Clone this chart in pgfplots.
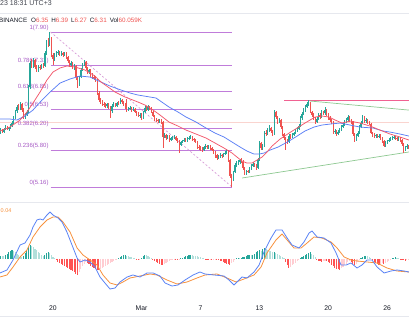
\documentclass[border=0pt]{standalone}
\usepackage{pgfplots}
\pgfplotsset{compat=1.18}
\usepackage{pgfplotstable}
\usepackage{fontspec}
\setmainfont{Liberation Sans}
\definecolor{upc}{HTML}{26A69A}
\definecolor{dnc}{HTML}{EF5350}
\definecolor{emar}{HTML}{F2576B}
\definecolor{emab}{HTML}{5B7FF5}
\definecolor{fibc}{HTML}{C07CDA}
\definecolor{fibt}{HTML}{A65AC4}
\definecolor{fibd}{HTML}{D79AD6}
\definecolor{hred}{HTML}{F06292}
\definecolor{tgreen}{HTML}{8DC891}
\definecolor{pline}{HTML}{FAD4CF}
\definecolor{bordc}{HTML}{E6E8EE}
\definecolor{txtc}{HTML}{131722}
\definecolor{macdb}{HTML}{5A83F5}
\definecolor{macdo}{HTML}{F7913D}
\definecolor{hdg}{HTML}{26A69A}
\definecolor{hlg}{HTML}{B2DFDB}
\definecolor{hdr}{HTML}{FF5252}
\definecolor{hlr}{HTML}{FFCDD2}

% 4h candles, n = candle index from 20 Feb 00:00
\pgfplotstableread{
n o h l c
-32 6.12 6.20 6.10 6.17
-31 6.17 6.19 6.11 6.14
-30 6.14 6.21 6.12 6.19
-29 6.19 6.25 6.17 6.22
-28 6.22 6.24 6.16 6.18
-27 6.18 6.23 6.15 6.21
-26 6.21 6.27 6.19 6.24
-25 6.24 6.33 6.22 6.30
-24 6.30 6.41 6.28 6.38
-23 6.38 6.53 6.36 6.50
-22 6.50 6.61 6.47 6.58
-21 6.58 6.63 6.52 6.55
-20 6.55 6.67 6.53 6.63
-19 6.63 6.65 6.49 6.52
-18 6.52 6.55 6.36 6.40
-17 6.40 6.47 6.37 6.44
-16 6.44 6.52 6.42 6.49
-15 6.49 6.96 6.47 6.92
-14 6.92 7.38 6.90 7.35
-13 7.35 7.42 7.26 7.30
-12 7.30 7.44 7.27 7.40
-11 7.40 7.42 7.24 7.29
-10 7.29 7.32 7.19 7.23
-9 7.23 7.31 7.20 7.28
-8 7.28 7.31 7.22 7.26
-7 7.26 7.34 7.24 7.31
-6 7.31 7.35 7.26 7.30
-5 7.30 7.56 7.28 7.52
-4 7.52 7.76 7.50 7.72
-3 7.72 7.80 7.64 7.68
-2 7.68 7.90 7.66 7.79
-1 7.79 7.82 7.45 7.49
0 7.49 7.53 7.32 7.42
1 7.42 7.52 7.39 7.49
2 7.49 7.56 7.46 7.52
3 7.52 7.58 7.49 7.55
4 7.55 7.57 7.47 7.50
5 7.50 7.56 7.48 7.53
6 7.53 7.55 7.46 7.49
7 7.49 7.55 7.47 7.52
8 7.52 7.54 7.43 7.46
9 7.46 7.48 7.35 7.38
10 7.38 7.40 7.29 7.32
11 7.32 7.38 7.28 7.35
12 7.35 7.37 7.25 7.29
13 7.29 7.33 7.22 7.30
14 7.30 7.32 7.06 7.10
15 7.10 7.12 6.91 6.96
16 6.96 7.13 6.94 7.10
17 7.10 7.26 7.08 7.23
18 7.23 7.36 7.21 7.33
19 7.33 7.41 7.30 7.37
20 7.37 7.39 7.22 7.26
21 7.26 7.28 7.15 7.19
22 7.19 7.25 7.16 7.22
23 7.22 7.24 7.11 7.14
24 7.14 7.17 7.07 7.11
25 7.11 7.14 7.05 7.09
26 7.09 7.12 7.01 7.05
27 7.05 7.07 6.79 6.82
28 6.82 6.85 6.66 6.70
29 6.70 6.73 6.62 6.66
30 6.66 6.69 6.60 6.63
31 6.63 6.66 6.57 6.61
32 6.61 6.64 6.55 6.59
33 6.59 6.65 6.56 6.62
34 6.62 6.64 6.54 6.58
35 6.58 6.60 6.38 6.50
36 6.50 6.62 6.47 6.60
37 6.60 6.66 6.57 6.63
38 6.63 6.65 6.57 6.60
39 6.60 6.67 6.58 6.65
40 6.65 6.68 6.61 6.64
41 6.64 6.73 6.62 6.70
42 6.70 6.72 6.63 6.66
43 6.66 6.68 6.60 6.63
44 6.63 6.65 6.54 6.57
45 6.57 6.71 6.49 6.52
46 6.52 6.58 6.50 6.55
47 6.55 6.59 6.52 6.56
48 6.56 6.58 6.49 6.52
49 6.52 6.57 6.50 6.54
50 6.54 6.56 6.46 6.49
51 6.49 6.51 6.41 6.45
52 6.45 6.48 6.39 6.42
53 6.42 6.47 6.38 6.44
54 6.44 6.46 6.34 6.38
55 6.38 6.51 6.36 6.48
56 6.48 6.59 6.46 6.56
57 6.56 6.59 6.50 6.53
58 6.53 6.61 6.51 6.58
59 6.58 6.60 6.52 6.55
60 6.55 6.57 6.46 6.49
61 6.49 6.51 6.39 6.42
62 6.42 6.44 6.33 6.36
63 6.36 6.38 6.31 6.35
64 6.35 6.37 6.30 6.33
65 6.33 6.36 6.30 6.34
66 6.34 6.36 6.28 6.31
67 6.31 6.33 5.85 6.05
68 6.05 6.11 6.02 6.08
69 6.08 6.10 6.00 6.03
70 6.03 6.08 6.01 6.06
71 6.06 6.08 5.96 5.99
72 5.99 6.04 5.97 6.02
73 6.02 6.06 6.00 6.04
74 6.04 6.08 6.01 6.05
75 6.05 6.07 5.97 6.00
76 6.00 6.02 5.94 5.97
77 5.97 5.99 5.76 5.90
78 5.90 5.98 5.88 5.95
79 5.95 6.00 5.93 5.97
80 5.97 6.02 5.95 5.99
81 5.99 6.02 5.95 5.98
82 5.98 6.04 5.96 6.01
83 6.01 6.06 5.99 6.03
84 6.03 6.08 6.01 6.05
85 6.05 6.07 5.98 6.01
86 6.01 6.03 5.96 5.99
87 5.99 6.01 5.93 5.96
88 5.96 5.98 5.84 5.87
89 5.87 5.90 5.82 5.85
90 5.85 5.88 5.80 5.83
91 5.83 5.86 5.78 5.81
92 5.81 5.88 5.79 5.86
93 5.86 5.92 5.84 5.89
94 5.89 5.91 5.83 5.86
95 5.86 5.90 5.84 5.88
96 5.88 5.90 5.82 5.85
97 5.85 5.87 5.79 5.82
98 5.82 5.84 5.74 5.78
99 5.78 5.80 5.68 5.72
100 5.72 5.74 5.63 5.67
101 5.67 5.73 5.65 5.70
102 5.70 5.76 5.68 5.73
103 5.73 5.75 5.68 5.71
104 5.71 5.77 5.69 5.74
105 5.74 5.80 5.72 5.77
106 5.77 5.83 5.75 5.80
107 5.80 5.82 5.61 5.64
108 5.64 5.66 5.32 5.36
109 5.36 5.39 5.16 5.30
110 5.30 5.45 5.27 5.42
111 5.42 5.58 5.40 5.55
112 5.55 5.62 5.52 5.58
113 5.58 5.63 5.55 5.60
114 5.60 5.66 5.57 5.63
115 5.63 5.67 5.58 5.61
116 5.61 5.63 5.47 5.50
117 5.50 5.52 5.37 5.40
118 5.40 5.46 5.37 5.44
119 5.44 5.47 5.40 5.43
120 5.43 5.51 5.41 5.49
121 5.49 5.56 5.47 5.53
122 5.53 5.60 5.51 5.57
123 5.57 5.59 5.51 5.54
124 5.54 5.56 5.47 5.50
125 5.50 5.67 5.48 5.64
126 5.64 5.97 5.62 5.94
127 5.94 5.96 5.81 5.85
128 5.85 5.92 5.82 5.89
129 5.89 6.15 5.87 6.12
130 6.12 6.16 6.06 6.10
131 6.10 6.20 6.08 6.17
132 6.17 6.25 6.14 6.20
133 6.20 6.22 6.11 6.15
134 6.15 6.17 6.07 6.10
135 6.10 6.52 6.08 6.49
136 6.49 6.51 6.36 6.40
137 6.40 6.42 6.28 6.31
138 6.31 6.38 6.29 6.34
139 6.34 6.36 6.19 6.22
140 6.22 6.24 6.07 6.10
141 6.10 6.12 6.00 6.03
142 6.03 6.05 5.81 5.99
143 5.99 6.01 5.92 5.96
144 5.96 6.09 5.94 6.06
145 6.06 6.09 6.01 6.04
146 6.04 6.11 6.02 6.08
147 6.08 6.14 6.06 6.11
148 6.11 6.18 6.09 6.15
149 6.15 6.22 6.13 6.19
150 6.19 6.27 6.17 6.24
151 6.24 6.41 6.22 6.38
152 6.38 6.48 6.35 6.45
153 6.45 6.55 6.43 6.52
154 6.52 6.61 6.49 6.58
155 6.58 6.66 6.56 6.63
156 6.63 6.70 6.60 6.65
157 6.65 6.67 6.46 6.49
158 6.49 6.51 6.40 6.44
159 6.44 6.46 6.35 6.38
160 6.38 6.40 6.28 6.31
161 6.31 6.39 6.29 6.36
162 6.36 6.46 6.34 6.43
163 6.43 6.46 6.37 6.40
164 6.40 6.52 6.38 6.49
165 6.49 6.51 6.43 6.46
166 6.46 6.58 6.44 6.52
167 6.52 6.54 6.42 6.45
168 6.45 6.47 6.35 6.38
169 6.38 6.41 6.31 6.35
170 6.35 6.37 6.28 6.31
171 6.31 6.33 6.10 6.13
172 6.13 6.18 6.10 6.15
173 6.15 6.17 6.07 6.10
174 6.10 6.16 6.08 6.14
175 6.14 6.20 6.12 6.17
176 6.17 6.25 6.15 6.22
177 6.22 6.29 6.20 6.26
178 6.26 6.34 6.24 6.31
179 6.31 6.38 6.29 6.35
180 6.35 6.44 6.33 6.40
181 6.40 6.42 6.31 6.34
182 6.34 6.36 6.28 6.31
183 6.31 6.33 6.07 6.10
184 6.10 6.12 5.96 5.99
185 5.99 6.09 5.97 6.06
186 6.06 6.15 6.04 6.12
187 6.12 6.25 6.10 6.22
188 6.22 6.33 6.20 6.30
189 6.30 6.44 6.28 6.40
190 6.40 6.42 6.30 6.33
191 6.33 6.38 6.30 6.35
192 6.35 6.37 6.28 6.31
193 6.31 6.33 6.25 6.28
194 6.28 6.30 6.09 6.12
195 6.12 6.14 6.05 6.08
196 6.08 6.11 6.03 6.06
197 6.06 6.10 6.03 6.08
198 6.08 6.10 6.02 6.05
199 6.05 6.09 6.02 6.07
200 6.07 6.09 6.00 6.03
201 6.03 6.05 5.94 5.97
202 5.97 5.99 5.86 5.89
203 5.89 5.97 5.87 5.94
204 5.94 6.00 5.92 5.97
205 5.97 6.03 5.95 6.00
206 6.00 6.04 5.97 6.01
207 6.01 6.07 5.99 6.04
208 6.04 6.08 6.01 6.05
209 6.05 6.07 5.99 6.02
210 6.02 6.05 5.98 6.01
211 6.01 6.06 5.98 6.03
212 6.03 6.05 5.96 5.99
213 5.99 6.01 5.89 5.92
214 5.92 5.94 5.77 5.81
215 5.81 5.89 5.79 5.86
216 5.86 5.92 5.84 5.89
217 5.89 5.91 5.84 5.87
}\candles

% MACD histogram: k = 0 dark green, 1 light green, 2 dark red, 3 light red
\pgfplotstableread{
n v k
-32 0.012 0
-31 0.012 1
-30 0.010 1
-29 0.014 0
-28 0.020 0
-27 0.026 0
-26 0.030 0
-25 0.036 0
-24 0.030 1
-23 0.026 1
-22 0.020 1
-21 0.014 1
-20 0.010 1
-19 0.006 1
-18 0.010 0
-17 0.024 0
-16 0.036 0
-15 0.048 0
-14 0.056 0
-13 0.052 1
-12 0.046 1
-11 0.040 1
-10 0.034 1
-9 0.028 1
-8 0.022 1
-7 0.016 1
-6 0.010 1
-5 0.014 0
-4 0.022 0
-3 0.028 0
-2 0.024 1
-1 0.016 1
0 0.008 1
1 0.002 1
2 -0.006 2
3 -0.012 2
4 -0.018 2
5 -0.022 2
6 -0.026 2
7 -0.030 2
8 -0.034 2
9 -0.038 2
10 -0.042 2
11 -0.046 2
12 -0.050 2
13 -0.054 2
14 -0.060 2
15 -0.064 2
16 -0.052 3
17 -0.040 3
18 -0.030 3
19 -0.020 3
20 -0.014 3
21 -0.016 2
22 -0.022 2
23 -0.028 2
24 -0.034 2
25 -0.038 2
26 -0.042 2
27 -0.044 2
28 -0.046 2
29 -0.042 3
30 -0.038 3
31 -0.034 3
32 -0.030 3
33 -0.026 3
34 -0.022 3
35 -0.018 3
36 -0.014 3
37 -0.010 3
38 -0.006 3
39 -0.002 3
40 0.004 0
41 0.008 0
42 0.012 0
43 0.014 0
44 0.016 0
45 0.012 1
46 0.010 1
47 0.008 1
48 0.006 1
49 0.004 1
50 0.002 1
51 -0.004 2
52 -0.006 2
53 -0.002 3
54 0.004 0
55 0.010 0
56 0.016 0
57 0.014 1
58 0.010 1
59 0.006 1
60 0.002 1
61 -0.004 2
62 -0.008 2
63 -0.012 2
64 -0.016 2
65 -0.020 2
66 -0.024 2
67 -0.026 2
68 -0.020 3
69 -0.016 3
70 -0.012 3
71 -0.008 3
72 -0.006 3
73 -0.004 3
74 -0.002 3
75 -0.004 2
76 -0.006 2
77 -0.004 3
78 0.002 0
79 0.004 0
80 0.008 0
81 0.010 0
82 0.012 0
83 0.014 0
84 0.016 0
85 0.014 1
86 0.012 1
87 0.012 1
88 0.010 1
89 0.008 1
90 0.006 1
91 0.004 1
92 0.002 1
93 -0.002 2
94 -0.004 2
95 -0.006 2
96 -0.004 3
97 -0.004 2
98 -0.002 3
99 -0.002 3
100 -0.004 2
101 -0.006 2
102 -0.008 2
103 -0.010 2
104 -0.014 2
105 -0.018 2
106 -0.020 2
107 -0.022 2
108 -0.024 2
109 -0.018 3
110 -0.012 3
111 -0.006 3
112 0.002 0
113 0.004 0
114 0.002 1
115 0.004 0
116 0.006 0
117 0.008 0
118 0.012 0
119 0.014 0
120 0.016 0
121 0.014 1
122 0.016 0
123 0.020 0
124 0.026 0
125 0.032 0
126 0.036 0
127 0.030 1
128 0.040 0
129 0.044 0
130 0.040 1
131 0.036 1
132 0.032 1
133 0.030 1
134 0.026 1
135 0.028 0
136 0.024 1
137 0.018 1
138 0.014 1
139 0.010 1
140 0.006 1
141 0.002 1
142 -0.012 2
143 -0.024 2
144 -0.036 2
145 -0.032 3
146 -0.026 3
147 -0.020 3
148 -0.016 3
149 -0.010 3
150 -0.004 3
151 0.004 0
152 0.008 0
153 0.012 0
154 0.016 0
155 0.020 0
156 0.024 0
157 0.028 0
158 0.020 1
159 0.014 1
160 0.008 1
161 -0.004 2
162 -0.008 2
163 -0.010 2
164 -0.012 2
165 -0.010 3
166 -0.008 3
167 -0.010 2
168 -0.014 2
169 -0.018 2
170 -0.024 2
171 -0.030 2
172 -0.036 2
173 -0.040 2
174 -0.042 2
175 -0.044 2
176 -0.038 3
177 -0.032 3
178 -0.026 3
179 -0.020 3
180 -0.014 3
181 -0.010 3
182 -0.014 2
183 -0.020 2
184 -0.024 2
185 -0.020 3
186 -0.014 3
187 -0.006 3
188 0.002 0
189 0.006 0
190 0.010 0
191 0.012 0
192 0.010 1
193 0.006 1
194 0.002 1
195 -0.006 2
196 -0.012 2
197 -0.016 2
198 -0.020 2
199 -0.024 2
200 -0.022 3
201 -0.018 3
202 -0.020 2
203 -0.016 3
204 -0.012 3
205 -0.008 3
206 -0.004 3
207 0.002 0
208 0.004 0
209 0.006 0
210 0.004 1
211 0.002 1
212 -0.002 2
213 -0.004 2
214 -0.006 2
215 -0.008 2
216 -0.006 3
217 -0.004 3
}\hist

\begin{document}
\begin{tikzpicture}
\useasboundingbox (0pt,0pt) rectangle (409pt,334pt);
% pane borders
\draw[bordc, line width=0.6pt] (0pt,321pt) -- (409pt,321pt);
\draw[bordc, line width=0.8pt] (0pt,132pt) -- (409pt,132pt);
\draw[bordc, line width=0.6pt] (0pt,18pt) -- (409pt,18pt);

% header
\node[anchor=base west, inner sep=0pt, text=txtc!80, font=\fontsize{7}{8}\selectfont] at (0pt,328.5pt) {23 18:31 UTC+3};
\node[anchor=base west, inner sep=0pt, text=txtc, font=\fontsize{6.3}{7}\selectfont] at (-1pt,311pt)
 {BINANCE\hspace{4pt}O\textcolor{dnc}{6.35}\hspace{3pt}H\textcolor{dnc}{6.39}\hspace{3pt}L\textcolor{dnc}{6.27}\hspace{3pt}C\textcolor{dnc}{6.31}\hspace{3pt}Vol\textcolor{dnc}{60.059K}};
\node[anchor=base west, inner sep=0pt, text=macdo, font=\fontsize{5.5}{6}\selectfont] at (0.5pt,121pt) {0.04};

% ---------------- price pane ----------------
\begin{axis}[at={(0pt,132pt)}, anchor=south west, scale only axis,
  width=409pt, height=188pt,
  xmin=-32.35, xmax=217.3, ymin=4.896, ymax=8.218,
  hide axis, clip=true]
% current price line
\addplot[pline, line width=0.6pt, forget plot] coordinates {(-40,6.31) (230,6.31)};
% fibonacci retracement
\foreach \lv in {7.90, 7.31, 6.85, 6.53, 6.20, 5.80, 5.16}{
  \edef\temp{\noexpand\addplot[fibc, line width=0.8pt, forget plot] coordinates {(-1.5,\lv) (109.3,\lv)};}\temp
}
\node[anchor=south east, inner sep=0pt, text=fibt, font=\fontsize{6}{7}\selectfont, yshift=1.5pt] at (axis cs:-2.6,7.90) {1(7.90)};
\node[anchor=south east, inner sep=0pt, text=fibt, font=\fontsize{6}{7}\selectfont, yshift=1.5pt] at (axis cs:-2.6,7.31) {0.786(7.31)};
\node[anchor=south east, inner sep=0pt, text=fibt, font=\fontsize{6}{7}\selectfont, yshift=1.5pt] at (axis cs:-2.6,6.85) {0.618(6.85)};
\node[anchor=south east, inner sep=0pt, text=fibt, font=\fontsize{6}{7}\selectfont, yshift=1.5pt] at (axis cs:-2.6,6.53) {0.5(6.53)};
\node[anchor=south east, inner sep=0pt, text=fibt, font=\fontsize{6}{7}\selectfont, yshift=1.5pt] at (axis cs:-2.6,6.20) {0.382(6.20)};
\node[anchor=south east, inner sep=0pt, text=fibt, font=\fontsize{6}{7}\selectfont, yshift=1.5pt] at (axis cs:-2.6,5.80) {0.236(5.80)};
\node[anchor=south east, inner sep=0pt, text=fibt, font=\fontsize{6}{7}\selectfont, yshift=1.5pt] at (axis cs:-2.6,5.16) {0(5.16)};
\addplot[fibd, line width=0.7pt, dash pattern=on 2pt off 2pt, forget plot] coordinates {(-1.5,7.90) (109.3,5.16)};
% red horizontal and triangle lines
\addplot[hred, line width=0.7pt, forget plot] coordinates {(141,6.70) (230,6.70)};
\addplot[tgreen, line width=0.7pt, forget plot] coordinates {(157,6.68) (217.3,6.52)};
\addplot[tgreen, line width=0.7pt, forget plot] coordinates {(115.4,5.32) (217.3,5.78)};
% candles: wicks
\addplot[draw=none, mark=none, forget plot,
  restrict expr to domain={\thisrow{c}-\thisrow{o}}{0:10},
  error bars/.cd, y dir=both, y explicit, error mark=none,
  error bar style={line width=0.45pt, draw=upc, solid}]
  table[x=n, y=o, y error plus expr={\thisrow{h}-\thisrow{o}}, y error minus expr={\thisrow{o}-\thisrow{l}}] {\candles};
\addplot[draw=none, mark=none, forget plot,
  restrict expr to domain={\thisrow{c}-\thisrow{o}}{-10:-0.0001},
  error bars/.cd, y dir=both, y explicit, error mark=none,
  error bar style={line width=0.45pt, draw=dnc, solid}]
  table[x=n, y=o, y error plus expr={\thisrow{h}-\thisrow{o}}, y error minus expr={\thisrow{o}-\thisrow{l}}] {\candles};
% candles: bodies
\addplot[draw=none, mark=none, forget plot,
  restrict expr to domain={\thisrow{c}-\thisrow{o}}{0:10},
  error bars/.cd, y dir=both, y explicit, error mark=none,
  error bar style={line width=1.15pt, draw=upc, solid}]
  table[x=n, y=o, y error plus expr={\thisrow{c}-\thisrow{o}}, y error minus expr={0}] {\candles};
\addplot[draw=none, mark=none, forget plot,
  restrict expr to domain={\thisrow{c}-\thisrow{o}}{-10:-0.0001},
  error bars/.cd, y dir=both, y explicit, error mark=none,
  error bar style={line width=1.15pt, draw=dnc, solid}]
  table[x=n, y=o, y error plus expr={0}, y error minus expr={\thisrow{o}-\thisrow{c}}] {\candles};
% moving averages
\addplot[emab, line width=0.75pt, line join=round, forget plot] coordinates {
(-32.4,6.362) (-26.3,6.362) (-22.0,6.344) (-17.1,6.415) (-12.2,6.521) (-6.7,6.698)
(-1.8,6.839) (4.3,6.998) (10.4,7.069) (16.5,7.122) (22.6,7.104) (29.3,7.016)
(34.8,6.945) (41.5,6.875) (47.0,6.822) (51.9,6.786) (59.2,6.751) (62.9,6.733)
(70.8,6.574) (76.3,6.486) (81.2,6.397) (87.3,6.309) (93.4,6.203) (98.9,6.114)
(104.4,6.044) (109.3,5.955) (114.2,5.867) (118.4,5.796) (122.7,5.743) (125.8,5.743)
(128.8,5.761) (132.5,5.814) (137.4,5.867) (144.1,5.973) (149.0,6.061) (153.8,6.150)
(159.3,6.220) (164.2,6.256) (169.1,6.273) (175.2,6.291) (181.3,6.256) (187.4,6.220)
(195.4,6.203) (201.5,6.150) (205.7,6.132) (211.8,6.097) (217.3,6.061)};
\addplot[emar, line width=0.75pt, line join=round, forget plot] coordinates {
(-32.4,6.150) (-26.3,6.220) (-20.1,6.344) (-15.9,6.486) (-12.2,6.645) (-7.9,6.839)
(-3.7,7.051) (0,7.193) (4.3,7.264) (8.5,7.299) (13.4,7.281) (19.5,7.228)
(25.6,7.122) (29.3,7.016) (33.6,6.928) (37.9,6.839) (44.0,6.751) (51.9,6.662)
(56.2,6.609) (61.1,6.521) (65.3,6.433) (70.8,6.309) (76.3,6.238) (81.2,6.167)
(87.3,6.097) (93.4,6.026) (98.9,5.938) (104.4,5.849) (109.3,5.761) (112.3,5.690)
(115.4,5.619) (118.4,5.584) (121.5,5.584) (124.5,5.637) (127.6,5.690) (130.6,5.778)
(133.7,5.884) (138.6,6.008) (144.1,6.114) (149.0,6.203) (153.8,6.291) (160.0,6.397)
(164.2,6.415) (168.5,6.397) (172.2,6.344) (176.4,6.291) (181.3,6.326) (187.4,6.291)
(193.5,6.238) (199.6,6.167) (205.7,6.097) (211.8,6.044) (217.3,5.991)};
\end{axis}

% ---------------- MACD pane ----------------
\begin{axis}[at={(0pt,36pt)}, anchor=south west, scale only axis,
  width=409pt, height=96pt,
  xmin=-32.35, xmax=217.3, ymin=-0.156, ymax=0.228,
  axis line style={draw=none}, major tick length=0pt,
  ytick=\empty,
  xtick={0,54,90,126,168,204},
  xticklabels={20,Mar,7,13,20,26},
  xticklabel style={font=\fontsize{6.8}{8}\selectfont, text=txtc, yshift=-4pt},
  /pgf/number format/assume math mode=true,
  clip=true]
\addplot[ycomb, hdg, line width=1.1pt, forget plot, restrict expr to domain={\thisrow{k}}{-0.5:0.5}] table[x=n, y=v] {\hist};
\addplot[ycomb, hlg, line width=1.1pt, forget plot, restrict expr to domain={\thisrow{k}}{0.5:1.5}] table[x=n, y=v] {\hist};
\addplot[ycomb, hdr, line width=1.1pt, forget plot, restrict expr to domain={\thisrow{k}}{1.5:2.5}] table[x=n, y=v] {\hist};
\addplot[ycomb, hlr, line width=1.1pt, forget plot, restrict expr to domain={\thisrow{k}}{2.5:3.5}] table[x=n, y=v] {\hist};
\addplot[macdo, line width=0.8pt, line join=round, forget plot] coordinates {
(-32.4,-0.072) (-28.1,-0.064) (-24.4,-0.032) (-20.1,0.008) (-15.9,0.036) (-12.2,0.088)
(-7.9,0.128) (-3.7,0.156) (0,0.168) (3.1,0.168) (6.1,0.148) (10.4,0.108) (14.7,0.044)
(18.3,0.016) (22.6,-0.004) (26.9,-0.024) (30.5,-0.064) (34.8,-0.096) (39.1,-0.104)
(42.7,-0.092) (47.0,-0.076) (53.1,-0.068) (59.2,-0.060) (63.5,-0.064) (69.6,-0.084)
(75.7,-0.100) (81.8,-0.092) (87.9,-0.076) (92.8,-0.064) (100.1,-0.060) (106.2,-0.076)
(111.7,-0.092) (116.6,-0.080) (122.7,-0.064) (127.0,-0.032) (130.6,0.024) (136.1,0.076)
(139.8,0.100) (142.9,0.076) (147.1,0.044) (151.4,0.044) (155.1,0.064) (159.3,0.088)
(164.2,0.084) (169.7,0.068) (173.4,0.044) (177.7,0.008) (181.9,-0.004) (185.6,-0.008)
(191.7,-0.012) (197.8,-0.016) (203.9,-0.036) (210.0,-0.048) (217.3,-0.052)};
\addplot[macdb, line width=0.8pt, line join=round, forget plot] coordinates {
(-32.4,-0.056) (-28.1,-0.044) (-24.4,-0.004) (-20.1,0.056) (-17.1,0.064) (-14.0,0.096)
(-12.2,0.128) (-9.8,0.156) (-7.9,0.160) (-6.1,0.156) (-3.7,0.176) (-1.8,0.188)
(0,0.176) (3.1,0.164) (5.5,0.148) (8.5,0.108) (11.6,0.056) (14.7,0.004) (16.5,-0.012)
(19.5,-0.004) (22.6,-0.012) (25.6,-0.032) (28.7,-0.072) (31.7,-0.096) (34.8,-0.120)
(37.9,-0.116) (40.9,-0.092) (45.2,-0.072) (48.8,-0.064) (53.1,-0.072) (57.4,-0.056)
(61.1,-0.056) (65.3,-0.068) (68.4,-0.096) (72.6,-0.108) (76.3,-0.104) (80.6,-0.084)
(85.5,-0.064) (89.7,-0.052) (92.8,-0.060) (98.3,-0.064) (104.4,-0.068) (107.4,-0.084)
(110.5,-0.104) (112.3,-0.092) (115.4,-0.072) (118.4,-0.076) (122.7,-0.052) (125.8,-0.024)
(128.8,0.028) (133.1,0.084) (136.1,0.116) (139.8,0.116) (142.9,0.084) (145.9,0.056)
(150.2,0.044) (153.2,0.068) (156.3,0.104) (158.1,0.112) (161.2,0.088) (165.4,0.084)
(169.7,0.064) (172.8,0.024) (175.8,-0.024) (178.9,-0.024) (181.9,-0.016) (185.6,-0.036)
(188.6,-0.024) (191.7,-0.004) (194.7,-0.004) (197.8,-0.032) (202.1,-0.056) (206.3,-0.048)
(210.0,-0.044) (214.3,-0.048) (217.3,-0.052)};
\end{axis}
\end{tikzpicture}
\end{document}
